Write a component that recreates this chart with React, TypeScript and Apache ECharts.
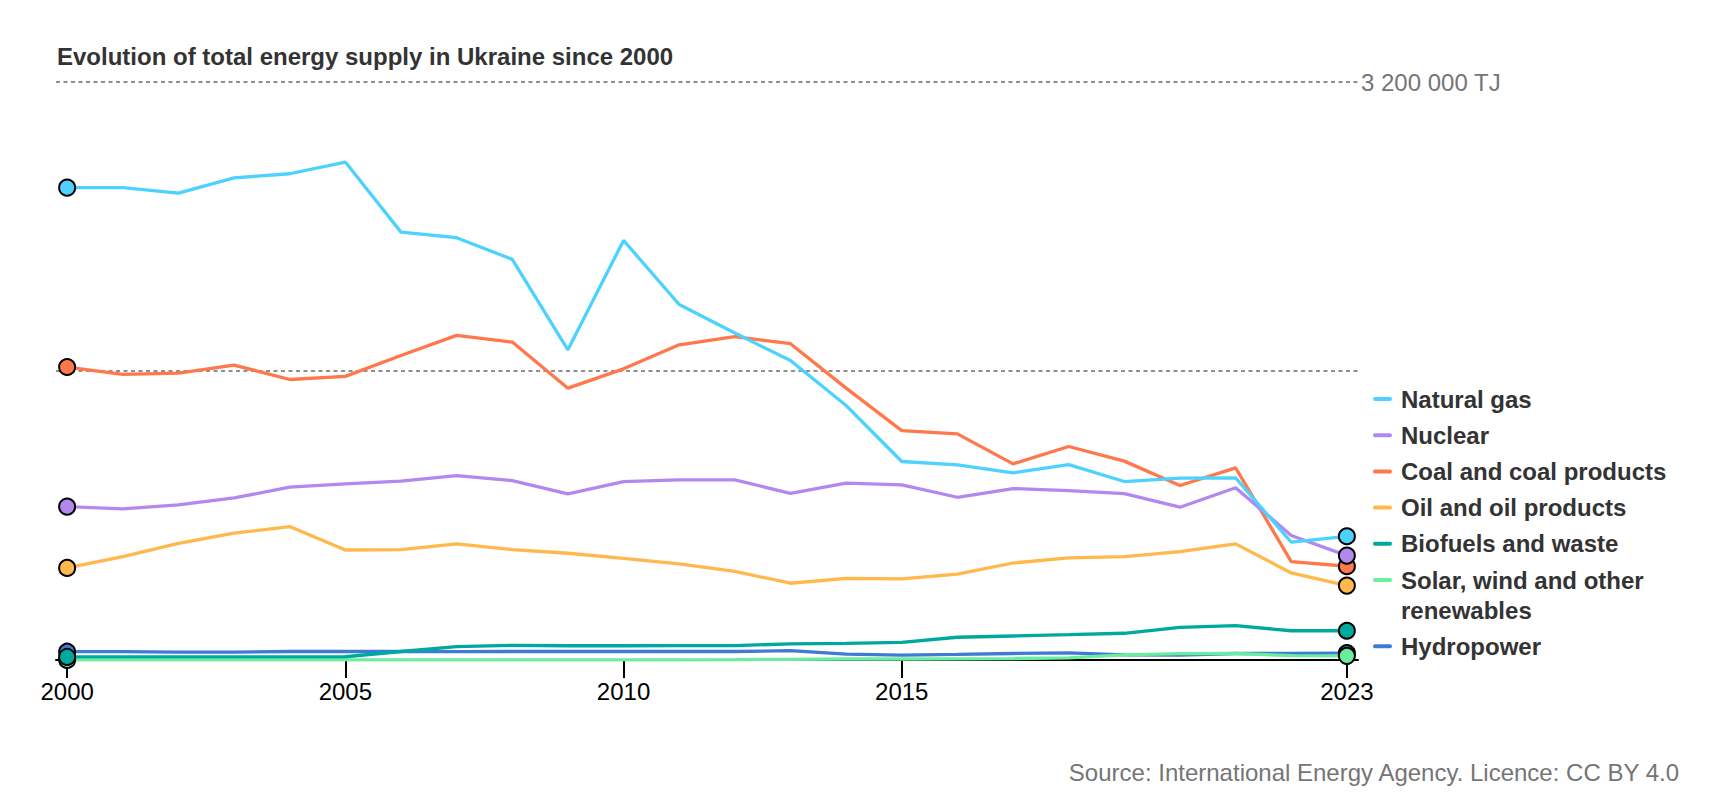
import React, { useEffect, useRef } from "react";
import * as echarts from "echarts";

const years = [2000, 2001, 2002, 2003, 2004, 2005, 2006, 2007, 2008, 2009, 2010, 2011, 2012, 2013, 2014, 2015, 2016, 2017, 2018, 2019, 2020, 2021, 2022, 2023];

const naturalGas = [2615000, 2615000, 2585000, 2669000, 2692000, 2757000, 2369000, 2338000, 2218000, 1717000, 2323000, 1968000, 1810000, 1658000, 1409000, 1099000, 1080000, 1036000, 1082000, 988000, 1007000, 1008000, 652000, 685000];
const nuclear = [849000, 837000, 859000, 897000, 957000, 975000, 990000, 1021000, 993000, 920000, 988000, 997000, 997000, 923000, 979000, 970000, 901000, 949000, 938000, 921000, 846000, 954000, 689000, 578000];
const coal = [1622000, 1581000, 1588000, 1633000, 1553000, 1570000, 1686000, 1797000, 1760000, 1505000, 1612000, 1745000, 1790000, 1751000, 1505000, 1270000, 1252000, 1086000, 1182000, 1101000, 966000, 1064000, 545000, 519000];
const oil = [510000, 572000, 646000, 702000, 739000, 609000, 611000, 643000, 611000, 591000, 563000, 532000, 491000, 425000, 452000, 449000, 476000, 537000, 565000, 572000, 600000, 643000, 482000, 412000];
const biofuels = [17000, 17000, 17000, 17000, 17000, 18000, 47000, 74000, 81000, 79000, 79000, 80000, 80000, 89000, 92000, 98000, 126000, 133000, 140000, 148000, 181000, 190000, 162000, 162000];
const solarWind = [300, 300, 300, 300, 300, 300, 300, 400, 400, 500, 600, 1200, 2500, 4000, 5500, 5500, 6000, 8000, 12000, 28000, 35000, 36000, 24000, 23000];
const hydropower = [46000, 46000, 44000, 44000, 47000, 47000, 47000, 46000, 47000, 47000, 48000, 47000, 47000, 52000, 33000, 27000, 31000, 36000, 40000, 28000, 27000, 36000, 36000, 38000];

const seriesNames = ["Natural gas", "Nuclear", "Coal and coal products", "Oil and oil products", "Biofuels and waste", "Solar, wind and other renewables", "Hydropower"];
const legendLabels = ["Natural gas", "Nuclear", "Coal and coal products", "Oil and oil products", "Biofuels and waste", "Solar, wind and other\nrenewables", "Hydropower"];
const seriesValues = [naturalGas, nuclear, coal, oil, biofuels, solarWind, hydropower];
const seriesColors = ["#4DD2FF", "#B388EE", "#FF784C", "#FFB84C", "#00A99D", "#6AEE9E", "#3F7BD6"];
// drawing order (bottom first): hydro, solar, biofuels, oil, coal, nuclear, gas
const drawOrder = [6, 5, 4, 3, 2, 1, 0];

const xTickValues = [2000, 2005, 2010, 2015, 2023];
const yMax = 3200000;
const yInterval = 1600000;
const topLabel = "3 200 000 TJ";
const titleText = "Evolution of total energy supply in Ukraine since 2000";
const sourceText = "Source: International Energy Agency. Licence: CC BY 4.0";

const FONT = "'Liberation Sans', Arial, Helvetica, sans-serif";

export default function App() {
  const ref = useRef<HTMLDivElement>(null);

  useEffect(() => {
    document.body.style.margin = "0";
    if (!ref.current) return;
    const chart = echarts.init(ref.current, null, { renderer: "svg" });

    const lineSeries: any[] = drawOrder.map((idx) => ({
      type: "line",
      name: seriesNames[idx],
      data: years.map((y, i) => [y, seriesValues[idx][i]]),
      symbol: "none",
      lineStyle: { color: seriesColors[idx], width: 3.3 },
      itemStyle: { color: seriesColors[idx] },
      z: 2,
      silent: true,
    }));

    const last = years.length - 1;
    const markerSeries: any[] = drawOrder.map((idx) => ({
      type: "scatter",
      name: seriesNames[idx] + " ends",
      data: [
        [years[0], seriesValues[idx][0]],
        [years[last], seriesValues[idx][last]],
      ],
      symbol: "circle",
      symbolSize: 16,
      itemStyle: { color: seriesColors[idx], borderColor: "#000", borderWidth: 2, opacity: 1 },
      z: 5,
      silent: true,
    }));

    const legendX = 1373;
    const legendY0 = 399;
    const legendStep = 36.2;
    const legendGraphics: any[] = [];
    let extra = 0;
    legendLabels.forEach((label, i) => {
      const cy = legendY0 + legendStep * i + extra;
      legendGraphics.push({
        type: "rect",
        shape: { x: legendX, y: cy - 2, width: 19, height: 4, r: 2 },
        style: { fill: seriesColors[i] },
        silent: true,
      });
      legendGraphics.push({
        type: "text",
        x: legendX + 28,
        y: cy - 15,
        style: {
          text: label,
          fill: "#333",
          font: `bold 24px ${FONT}`,
          lineHeight: 30,
          verticalAlign: "top",
          align: "left",
        },
        silent: true,
      });
      const lines = label.split("\n").length;
      extra += (lines - 1) * 30;
    });

    chart.setOption({
      animation: false,
      textStyle: { fontFamily: FONT },
      title: {
        text: titleText,
        left: 57,
        top: 44,
        padding: 0,
        textStyle: { fontSize: 24, fontWeight: "bold", color: "#333", fontFamily: FONT },
      },
      grid: { left: 56, right: 362, top: 82, bottom: 140, containLabel: false },
      xAxis: {
        type: "value",
        min: 1999.8,
        max: 2023.2,
        axisLine: { show: true, lineStyle: { color: "#000", width: 2 } },
        axisTick: { show: true, customValues: xTickValues, length: 18, lineStyle: { color: "#000", width: 2 } },
        axisLabel: {
          show: true,
          customValues: xTickValues,
          formatter: (v: number) => String(Math.round(v)),
          fontSize: 24,
          color: "#000",
          margin: 19,
          fontFamily: FONT,
        },
        splitLine: { show: false },
      },
      yAxis: {
        type: "value",
        min: 0,
        max: yMax,
        interval: yInterval,
        position: "right",
        axisLine: { show: false },
        axisTick: { show: false },
        axisLabel: {
          show: true,
          margin: 3,
          fontSize: 24,
          color: "#757575",
          fontFamily: FONT,
          formatter: (v: number) => (v === yMax ? topLabel : ""),
        },
        splitLine: { show: true, lineStyle: { color: "#8f8f8f", width: 1.8, type: [4, 3.5] } },
      },
      graphic: [
        ...legendGraphics,
        {
          type: "text",
          x: 1679,
          y: 772,
          style: {
            text: sourceText,
            fill: "#757575",
            font: `24px ${FONT}`,
            align: "right",
            verticalAlign: "middle",
          },
          silent: true,
        },
      ],
      series: [...lineSeries, ...markerSeries],
    });

    return () => {
      chart.dispose();
    };
  }, []);

  return <div ref={ref} style={{ width: 1720, height: 800 }} />;
}
